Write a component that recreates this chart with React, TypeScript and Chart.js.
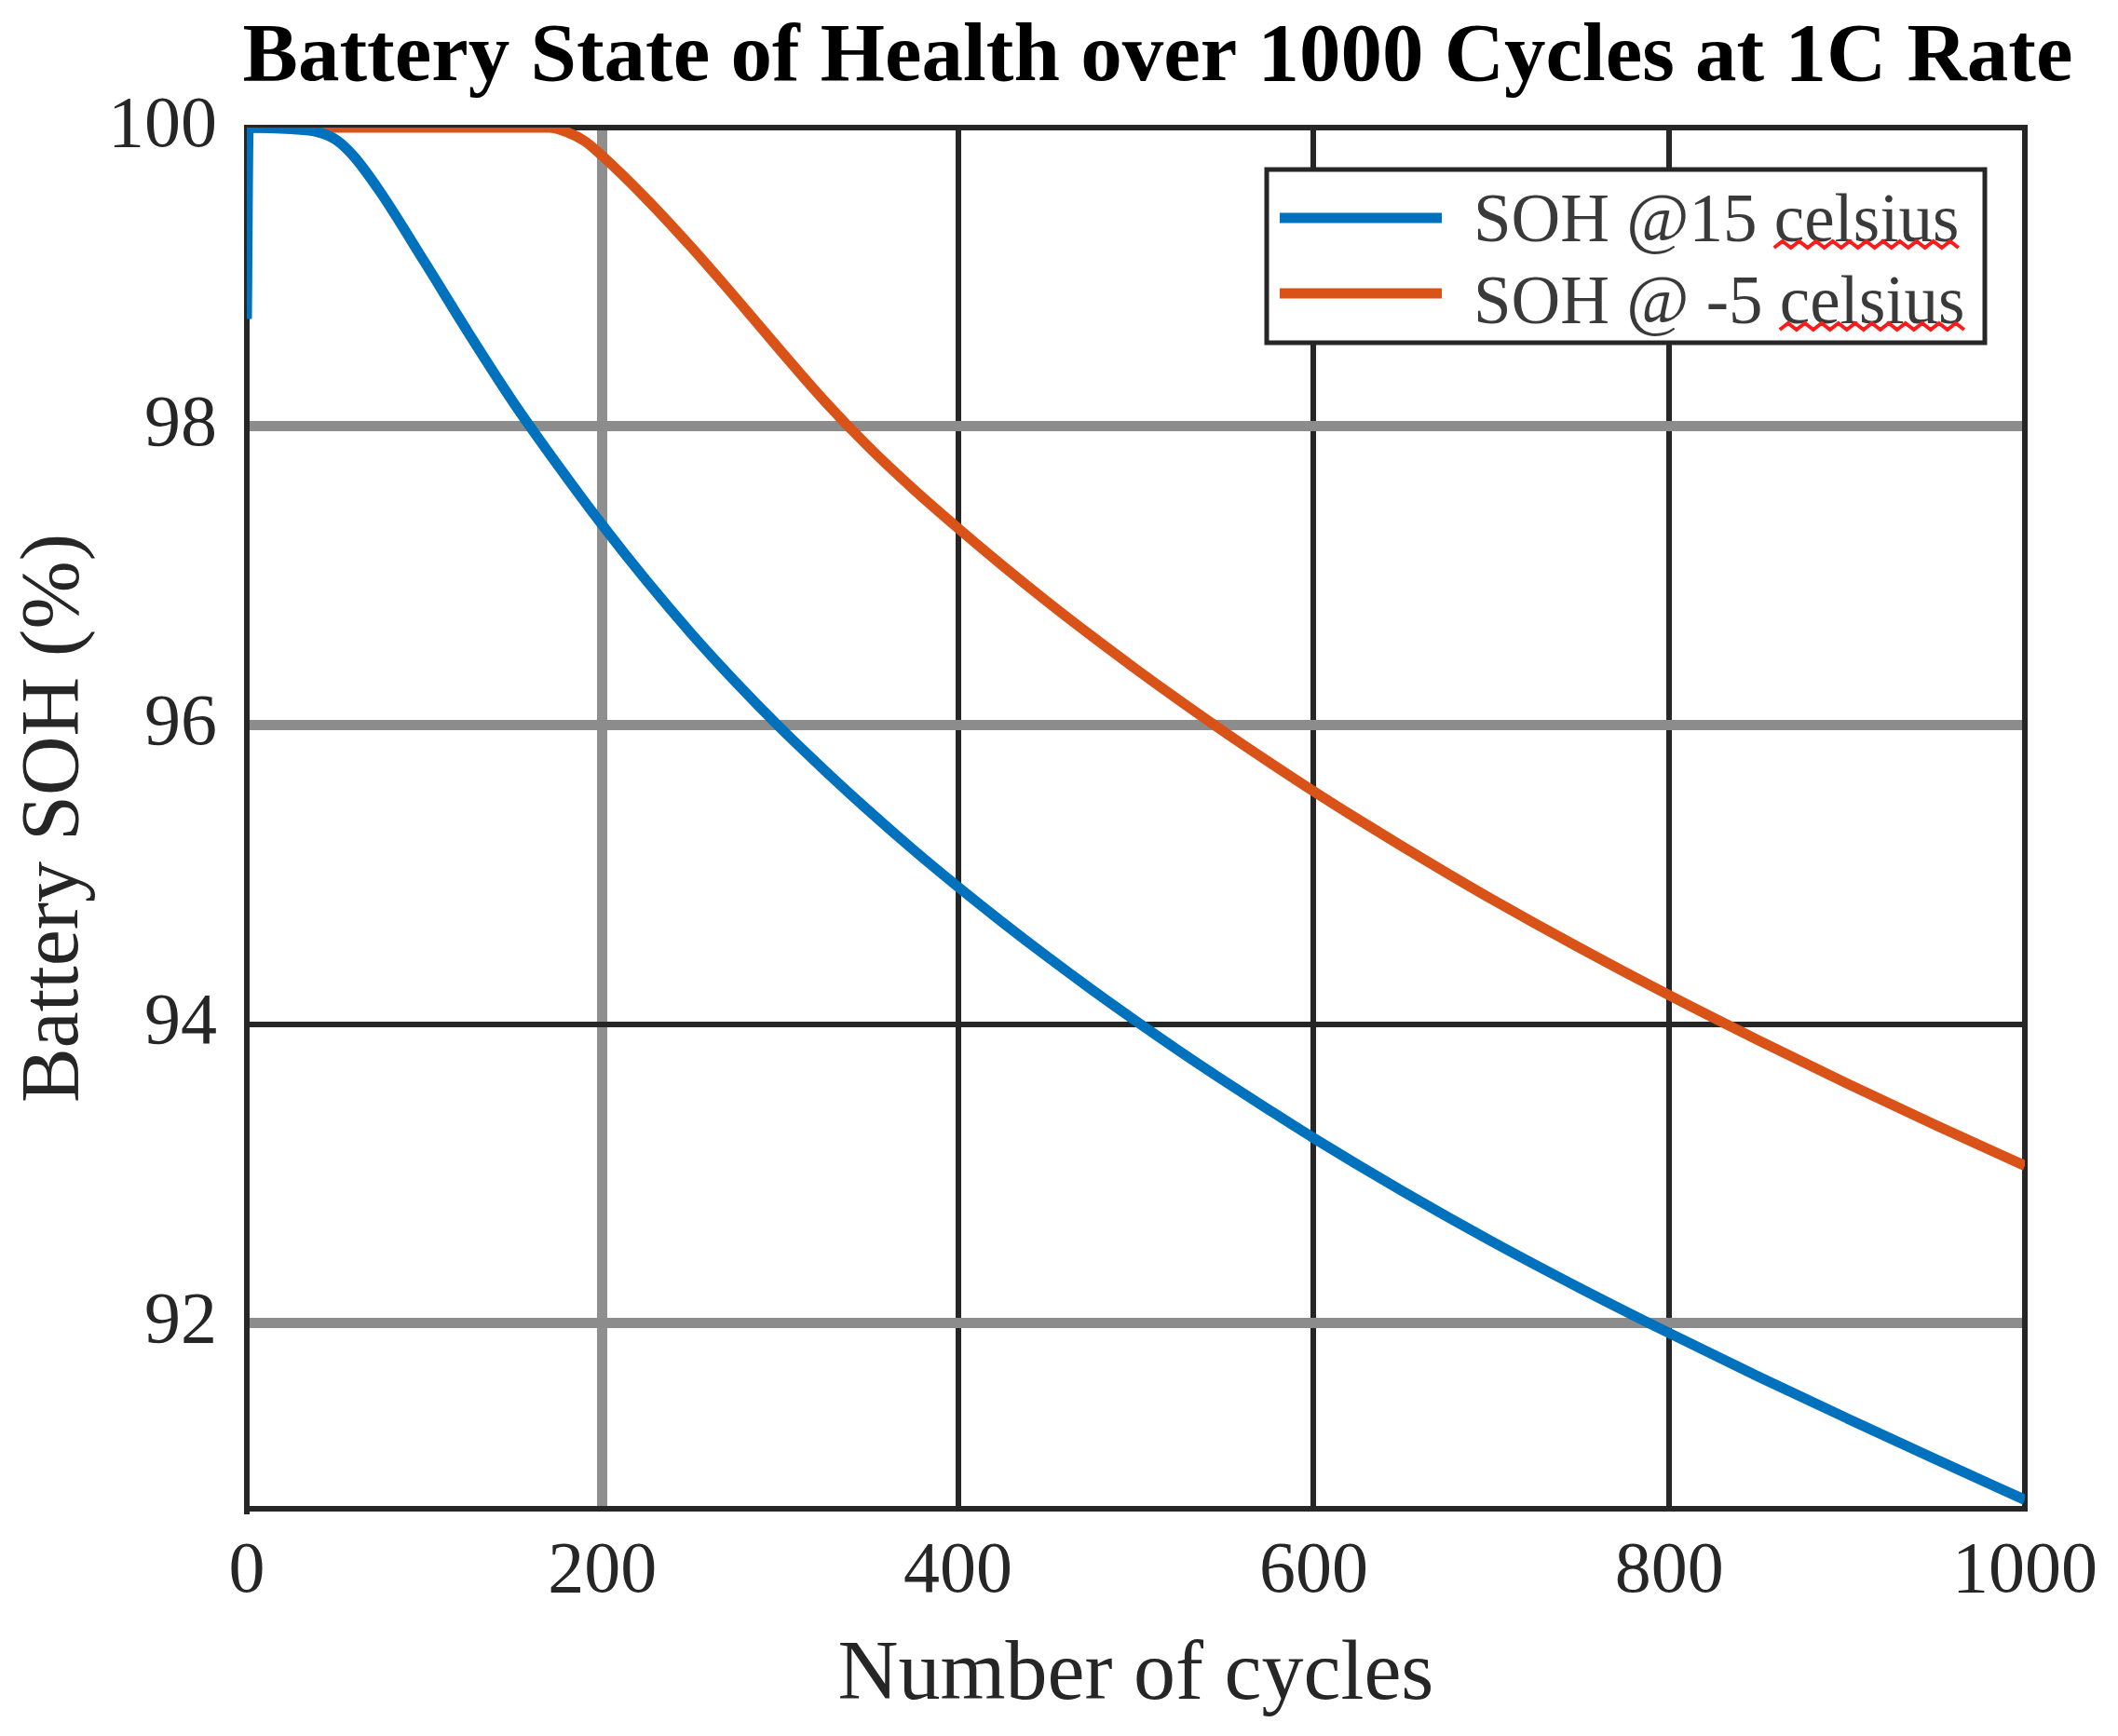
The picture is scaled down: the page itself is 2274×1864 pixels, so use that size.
import { useEffect, useRef } from 'react';
import { Chart, registerables } from 'chart.js';

Chart.register(...registerables);

// cycles / state of health
const cyclesAt15 = [0, 1, 25, 40, 50, 60, 75, 100, 125, 150, 175, 200, 225, 250, 275, 300, 325, 350, 375, 400, 425, 450, 475, 500, 525, 550, 575, 600, 650, 700, 750, 800, 850, 900, 950, 1000];
const sohAt15 = [98.72, 100, 99.99, 99.97, 99.92, 99.81, 99.57, 99.1, 98.62, 98.16, 97.74, 97.34, 96.965, 96.615, 96.29, 95.985, 95.7, 95.427, 95.167, 94.92, 94.683, 94.455, 94.235, 94.023, 93.818, 93.62, 93.428, 93.24, 92.885, 92.55, 92.235, 91.935, 91.645, 91.365, 91.09, 90.82];

const cyclesAtMinus5 = [0, 170, 180, 190, 200, 225, 250, 275, 300, 325, 350, 375, 400, 425, 450, 475, 500, 525, 550, 575, 600, 625, 650, 675, 700, 750, 800, 850, 900, 950, 1000];
const sohAtMinus5 = [100, 100, 99.97, 99.91, 99.81, 99.52, 99.2, 98.86, 98.51, 98.17, 97.86, 97.58, 97.32, 97.07, 96.83, 96.6, 96.378, 96.163, 95.955, 95.755, 95.56, 95.372, 95.19, 95.013, 94.84, 94.51, 94.195, 93.895, 93.605, 93.325, 93.055];

const seriesLabels = ['SOH @15 celsius', 'SOH @ -5 celsius'];
const seriesColors = ['#0072BD', '#D95319'];
const xTicks = [0, 200, 400, 600, 800, 1000];
const yTicks = [92, 94, 96, 98, 100];
const lightYTicks = [92, 96, 98];

const SERIF = '"Liberation Serif", "Times New Roman", serif';
const INK = '#262626';

// red spell-check squiggle under a word
function squiggle(ctx: CanvasRenderingContext2D, x0: number, x1: number, y: number) {
  ctx.save();
  ctx.strokeStyle = '#ff1a1a';
  ctx.lineWidth = 4;
  ctx.beginPath();
  let up = true;
  ctx.moveTo(x0, y);
  for (let x = x0 + 9; x <= x1; x += 9) {
    ctx.lineTo(x, up ? y - 7 : y);
    up = !up;
  }
  ctx.stroke();
  ctx.restore();
}

const decorPlugin = {
  id: 'decor',
  beforeDatasetsDraw(chart: Chart) {
    const { ctx, chartArea: a } = chart;
    ctx.save();
    ctx.strokeStyle = INK;
    ctx.lineWidth = 6;
    ctx.beginPath();
    ctx.moveTo(a.left, a.top);
    ctx.lineTo(a.right, a.top);
    ctx.lineTo(a.right, a.bottom);
    ctx.stroke();
    ctx.restore();
  },
  afterDraw(chart: Chart) {
    const { ctx } = chart;
    ctx.save();

    // title
    ctx.fillStyle = '#000';
    ctx.font = `bold 89px ${SERIF}`;
    ctx.textAlign = 'center';
    ctx.textBaseline = 'alphabetic';
    ctx.fillText('Battery State of Health over 1000 Cycles at 1C Rate', 1243, 86);

    // legend
    const bx = 1360;
    const by = 182;
    const bw = 771;
    const bh = 186;
    ctx.fillStyle = '#fff';
    ctx.fillRect(bx, by, bw, bh);
    ctx.strokeStyle = INK;
    ctx.lineWidth = 5;
    ctx.strokeRect(bx, by, bw, bh);

    const rows = [
      { y: 234, base: 259 },
      { y: 315, base: 347 },
    ];
    ctx.font = `73px ${SERIF}`;
    ctx.textAlign = 'left';
    chart.data.datasets.forEach((ds, i) => {
      const r = rows[i];
      ctx.strokeStyle = seriesColors[i];
      ctx.lineWidth = 11;
      ctx.beginPath();
      ctx.moveTo(1374, r.y);
      ctx.lineTo(1548, r.y);
      ctx.stroke();

      const label = String(ds.label);
      ctx.fillStyle = '#3a3a3a';
      ctx.fillText(label, 1582, r.base);
      const word = 'celsius';
      const pre = label.slice(0, label.lastIndexOf(word));
      const wx = 1582 + ctx.measureText(pre).width;
      squiggle(ctx, wx, wx + ctx.measureText(word).width, r.base + 7);
    });

    ctx.restore();
  },
};

export default function App(): React.JSX.Element {
  const canvasRef = useRef<HTMLCanvasElement>(null);
  const chartRef = useRef<Chart | null>(null);

  useEffect(() => {
    if (!canvasRef.current) return;
    document.body.style.margin = '0';

    if (chartRef.current) {
      chartRef.current.destroy();
    }

    chartRef.current = new Chart(canvasRef.current, {
      type: 'line',
      data: {
        datasets: [
          {
            label: seriesLabels[0],
            data: cyclesAt15.map((c, i) => ({ x: c, y: sohAt15[i] })),
            borderColor: seriesColors[0],
            borderWidth: 11,
            pointRadius: 0,
            cubicInterpolationMode: 'monotone',
          },
          {
            label: seriesLabels[1],
            data: cyclesAtMinus5.map((c, i) => ({ x: c, y: sohAtMinus5[i] })),
            borderColor: seriesColors[1],
            borderWidth: 11,
            pointRadius: 0,
            cubicInterpolationMode: 'monotone',
          },
        ],
      },
      options: {
        animation: false,
        responsive: true,
        maintainAspectRatio: false,
        devicePixelRatio: 1,
        layout: {
          padding: { top: 137, right: 90, left: 0, bottom: 0 },
        },
        plugins: {
          legend: { display: false },
          tooltip: { enabled: false },
          title: { display: false },
        },
        scales: {
          x: {
            type: 'linear',
            min: 0,
            max: 1000,
            afterBuildTicks: (s) => {
              s.ticks = xTicks.map((v) => ({ value: v }));
            },
            afterFit: (s) => {
              s.height = 244;
            },
            ticks: {
              color: INK,
              padding: 22,
              font: { family: SERIF, size: 78 },
              callback: (v) => String(v),
              maxRotation: 0,
            },
            grid: {
              drawTicks: false,
              color: (c) => (c.tick?.value === 200 ? '#8f8f8f' : INK),
              lineWidth: (c) => (c.tick?.value === 200 ? 11 : 6),
            },
            border: { display: true, color: INK, width: 6 },
            title: {
              display: true,
              text: 'Number of cycles',
              color: INK,
              font: { family: SERIF, size: 90 },
              padding: { top: 0, bottom: 10 },
            },
          },
          y: {
            type: 'linear',
            min: 90.76,
            max: 100,
            afterBuildTicks: (s) => {
              s.ticks = yTicks.map((v) => ({ value: v }));
            },
            afterFit: (s) => {
              s.width = 265;
            },
            ticks: {
              color: INK,
              padding: 32,
              font: { family: SERIF, size: 78 },
              callback: (v) => String(v),
            },
            grid: {
              drawTicks: false,
              color: (c) => (lightYTicks.includes(c.tick?.value) ? '#8c8c8c' : INK),
              lineWidth: (c) => (lightYTicks.includes(c.tick?.value) ? 11 : 6),
            },
            border: { display: true, color: INK, width: 6 },
            title: {
              display: true,
              text: 'Battery SOH (%)',
              color: INK,
              font: { family: SERIF, size: 88 },
              padding: { top: 7, bottom: 0 },
            },
          },
        },
      },
      plugins: [decorPlugin],
    });

    return () => {
      chartRef.current?.destroy();
      chartRef.current = null;
    };
  }, []);

  return (
    <div style={{ width: 2274, height: 1864, position: 'relative', background: '#fff' }}>
      <canvas ref={canvasRef} />
    </div>
  );
}
